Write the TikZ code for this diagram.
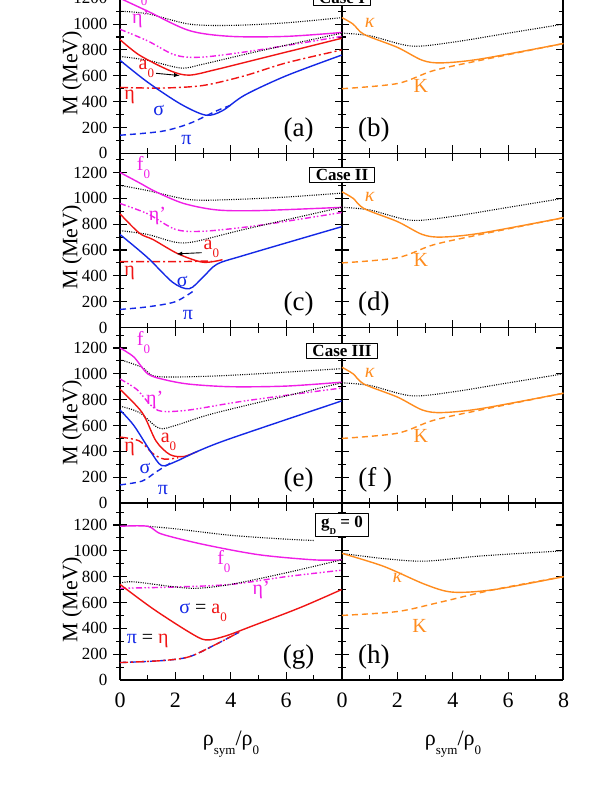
\documentclass[tikz,border=0pt]{standalone}
\usepackage{fontspec}
\setmainfont{Liberation Serif}
\usepackage{tikz}

\definecolor{magfz}{RGB}{240,30,230}
\definecolor{redaz}{RGB}{240,20,20}
\definecolor{bluesig}{RGB}{20,40,230}
\definecolor{orkap}{RGB}{255,140,30}

\newcommand{\lowsub}[1]{\raisebox{-0.4em}{\fontsize{13}{13}\selectfont #1}}

\tikzset{
    fzero/.style={magfz, line width=1.4pt},
    etap/.style={magfz, line width=1.4pt, dash pattern=on 6pt off 2.5pt on 1.5pt off 2pt on 1.5pt off 2.5pt},
    azero/.style={redaz, line width=1.4pt},
    etam/.style={redaz, line width=1.4pt, dash pattern=on 8pt off 3pt on 2pt off 3pt},
    sigm/.style={bluesig, line width=1.4pt},
    pim/.style={bluesig, line width=1.4pt, dash pattern=on 6pt off 4pt},
    kapm/.style={orkap, line width=1.4pt},
    kaon/.style={orkap, line width=1.4pt, dash pattern=on 6pt off 4pt},
    dotl/.style={black, line width=1.1pt, dash pattern=on 1pt off 1.3pt},
    lab/.style={font=\fontsize{20}{20}\selectfont, inner sep=0pt},
    panlab/.style={font=\fontsize{27}{27}\selectfont, inner sep=0pt},
    ticklab/.style={font=\fontsize{17}{17}\selectfont},
    axlab/.style={font=\fontsize{22}{22}\selectfont},
    casebox/.style={draw, line width=1pt, fill=white, font=\bfseries\fontsize{17}{17}\selectfont, inner xsep=6pt, inner ysep=2pt},
}

\begin{document}
\begin{tikzpicture}[x=1pt, y=-1pt, line join=round]
    \useasboundingbox (0,0) rectangle (606,785);

    % frames and ticks
    \draw[line width=1.3pt] (120,-5) -- (120,680) (342,-5) -- (342,680) (563,-5) -- (563,680);
    \foreach \yb in {153.3,327.5,503,680} {
        \draw[line width=1.3pt] (120,\yb) -- (563,\yb);
        \foreach \xo in {120,342} {
            \foreach \k in {1,...,7} {
                \pgfmathsetmacro\xt{\xo+27.7*\k}
                \pgfmathsetmacro\tl{ifthenelse(mod(\k,2)==0,8,5)}
                \draw[line width=1.1pt] (\xt,\yb) -- ++(0,-\tl);
                \ifdim\yb pt<600pt \draw[line width=1.1pt] (\xt,\yb) -- ++(0,\tl); \fi
            }
        }
        \foreach \m in {100,200,...,1300} {
            \pgfmathsetmacro\yt{\yb-0.1292*\m}
            \pgfmathsetmacro\tl{ifthenelse(mod(\m,200)==0,7,4)}
            \draw[line width=1.1pt] (120-\tl,\yt) -- (120+\tl,\yt)
                (342-\tl,\yt) -- (342+\tl,\yt) (563-\tl,\yt) -- (563,\yt);
        }
        \foreach \m in {0,200,...,1200} {
            \node[ticklab, anchor=east] at (111,\yb-0.1292*\m) {\m};
        }
        \pgfmathsetmacro\ym{\yb-80}
        \node[axlab, rotate=90] at (72,\ym) {M (MeV)};
    }
    \foreach \v [count=\i from 0] in {0,2,4,6} {
        \node[axlab] at (120+55.4*\i,700) {\v};
    }
    \foreach \v [count=\i from 0] in {0,2,4,6,8} {
        \node[axlab] at (342+55.4*\i,700) {\v};
    }
    \node[axlab] at (231,744) {ρ\lowsub{sym}/ρ\lowsub{0}};
    \node[axlab] at (453,744) {ρ\lowsub{sym}/ρ\lowsub{0}};

    % (a) Case I
    \begin{scope}[shift={(120,153.3)}, x=27.7pt, y=0.1292pt]
        \draw[dotl] plot[smooth] coordinates {(0,1100) (1,1080) (2.5,1000) (4,990) (6,1010) (8,1050)};
        \draw[fzero] plot[smooth] coordinates {(0,1200) (1,1100) (2.5,950) (4,905) (6,905) (8,935)};
        \draw[etap] plot[smooth] coordinates {(0,960) (1,870) (2,760) (3,745) (5,800) (8,905)};
        \draw[dotl] plot[smooth] coordinates {(0,750) (1,720) (2.2,660) (3,690) (5,790) (8,930)};
        \draw[azero] plot[smooth] coordinates {(0,880) (0.7,760) (1.8,640) (2.5,605) (3.5,650) (5,730) (8,890)};
        \draw[etam] plot[smooth] coordinates {(0,510) (1.5,505) (3,525) (4.5,600) (6,700) (8,800)};
        \draw[sigm] plot[smooth] coordinates {(0,720) (1,550) (2.2,380) (3.1,295) (3.7,330) (4.5,450) (6,600) (8,760)};
        \draw[pim] plot[smooth] coordinates {(0,140) (1.5,170) (2.5,230) (3.5,330) (4.1,380)};
        \node[lab, magfz] (fa) at (0.75,1230) {f\lowsub{0}};
        \node[lab, magfz] (epa) at (0.75,1040) {η’};
        \node[lab, redaz] (aa) at (0.95,650) {a\lowsub{0}};
        \coordinate (aat) at (2.15,602);
        \draw[-latex, line width=0.9pt] (aa.east) ++(2pt,-4pt) -- (aat);
        \node[lab, redaz] (ea) at (0.35,440) {η};
        \node[lab, bluesig] (sa) at (1.4,330) {σ};
        \node[lab, bluesig] (pa) at (2.4,100) {π};
        \node[panlab] (la) at (6.45,180) {(a)};
    \end{scope}
    \node[casebox] (ca) at (342,-2) {Case I};

    % (b)
    \begin{scope}[shift={(342,153.3)}, x=27.7pt, y=0.1292pt]
        \draw[dotl] plot[smooth] coordinates {(0,930) (1,910) (2.5,830) (4,860) (6,930) (8,1000)};
        \draw[kaon] plot[smooth] coordinates {(0,500) (2,540) (3.3,640) (5,720) (8,850)};
        \draw[kapm] plot[smooth] coordinates {(0,1050) (0.4,1000) (0.8,920) (2,820) (2.9,720) (3.6,700) (5,730) (8,850)};
        \node[lab, orkap] (kb) at (1.0,1010) {\itshape κ};
        \node[lab, orkap] (Kb) at (2.85,520) {K};
        \node[panlab] (lb) at (1.15,180) {(b)};
    \end{scope}

    % (c) Case II
    \begin{scope}[shift={(120,327.5)}, x=27.7pt, y=0.1292pt]
        \draw[dotl] plot[smooth] coordinates {(0,1100) (1,1060) (2.5,990) (4,990) (6,1010) (8,1040)};
        \draw[fzero] plot[smooth] coordinates {(0,1200) (0.7,1120) (1.3,1050) (2.3,960) (3.5,910) (5,905) (8,930)};
        \draw[etap] plot[smooth] coordinates {(0,960) (1,880) (2,760) (3,745) (5,790) (8,890)};
        \draw[dotl] plot[smooth] coordinates {(0,750) (1,720) (2,660) (2.7,665) (4.5,760) (8,930)};
        \draw[etam] plot[smooth] coordinates {(0,510) (2,510) (3.3,515)};
        \draw[azero] plot[smooth] coordinates {(0,880) (0.7,730) (1.2,680) (2.1,570) (3,505) (3.7,525)};
        \draw[sigm] plot[smooth] coordinates {(0,720) (1,540) (1.9,350) (2.5,300) (3,390) (3.5,490) (4.5,560) (8,780)};
        \draw[pim] plot[smooth] coordinates {(0,140) (1,160) (2,200) (2.7,290)};
        \node[lab, magfz] (fc) at (0.85,1240) {f\lowsub{0}};
        \node[lab, magfz] (epc) at (1.35,860) {η’};
        \node[lab, redaz] (ac) at (3.3,610) {a\lowsub{0}};
        \coordinate (act) at (2.05,570);
        \draw[-latex, line width=0.9pt] (ac.west) ++(-2pt,-4pt) -- (act);
        \node[lab, redaz] (ec) at (0.35,420) {η};
        \node[lab, bluesig] (sc) at (2.25,360) {σ};
        \node[lab, bluesig] (pc) at (2.45,100) {π};
        \node[panlab] (lc) at (6.45,180) {(c)};
    \end{scope}
    \node[casebox] (cc) at (342,175) {Case II};

    % (d)
    \begin{scope}[shift={(342,327.5)}, x=27.7pt, y=0.1292pt]
        \draw[dotl] plot[smooth] coordinates {(0,930) (1,910) (2.5,830) (4,860) (6,930) (8,1000)};
        \draw[kaon] plot[smooth] coordinates {(0,500) (2,540) (3.3,640) (5,720) (8,850)};
        \draw[kapm] plot[smooth] coordinates {(0,1050) (0.4,1000) (0.8,920) (2,820) (2.9,720) (3.6,700) (5,730) (8,850)};
        \node[lab, orkap] (kd) at (1.0,1010) {\itshape κ};
        \node[lab, orkap] (Kd) at (2.85,520) {K};
        \node[panlab] (ld) at (1.15,180) {(d)};
    \end{scope}

    % (e) Case III
    \begin{scope}[shift={(120,503)}, x=27.7pt, y=0.1292pt]
        \draw[dotl] plot[smooth] coordinates {(0,1110) (0.8,1050) (1.3,980) (3,980) (5,1000) (8,1040)};
        \draw[fzero] plot[smooth] coordinates {(0,1200) (0.5,1130) (1,1000) (1.6,955) (2.5,920) (4,900) (6,905) (8,935)};
        \draw[etap] plot[smooth] coordinates {(0,960) (0.6,880) (1.1,760) (1.5,710) (2.5,720) (4.5,790) (8,890)};
        \draw[dotl] plot[smooth] coordinates {(0,750) (0.7,700) (1.4,580) (2,600) (3.5,700) (8,930)};
        \draw[etam] plot[smooth] coordinates {(0,510) (0.7,480) (1.2,380) (1.6,340) (2.1,350)};
        \draw[azero] plot[smooth] coordinates {(0,880) (0.8,700) (1.3,480) (1.8,375) (2.3,360) (2.8,400)};
        \draw[sigm] plot[smooth] coordinates {(0,720) (0.5,600) (1.1,400) (1.5,290) (2,320) (2.8,400) (4,500) (8,790)};
        \draw[pim] plot[smooth] coordinates {(0,140) (0.8,170) (1.3,240) (1.9,320)};
        \node[lab, magfz] (fe) at (0.85,1240) {f\lowsub{0}};
        \node[lab, magfz] (epe) at (1.25,800) {η’};
        \node[lab, redaz] (ae) at (1.75,470) {a\lowsub{0}};
        \node[lab, redaz] (ee) at (0.35,420) {η};
        \node[lab, bluesig] (se) at (0.9,270) {σ};
        \node[lab, bluesig] (pe) at (1.55,100) {π};
        \node[panlab] (le) at (6.45,180) {(e)};
    \end{scope}
    \node[casebox] (ce) at (342,351) {Case III};

    % (f)
    \begin{scope}[shift={(342,503)}, x=27.7pt, y=0.1292pt]
        \draw[dotl] plot[smooth] coordinates {(0,930) (1,910) (2.5,830) (4,860) (6,930) (8,1000)};
        \draw[kaon] plot[smooth] coordinates {(0,500) (2,540) (3.3,640) (5,720) (8,850)};
        \draw[kapm] plot[smooth] coordinates {(0,1050) (0.4,1000) (0.8,920) (2,820) (2.9,720) (3.6,700) (5,730) (8,850)};
        \node[lab, orkap] (kf) at (1.0,1010) {\itshape κ};
        \node[lab, orkap] (Kf) at (2.85,520) {K};
        \node[panlab] (lf) at (1.2,180) {(f )};
    \end{scope}

    % (g) g_D = 0
    \begin{scope}[shift={(120,680)}, x=27.7pt, y=0.1292pt]
        \draw[dotl] plot[smooth] coordinates {(1,1190) (2,1170) (4,1120) (6,1090) (7,1080)};
        \draw[fzero] plot[smooth] coordinates {(0,1190) (1,1190) (1.5,1130) (3,1050) (5,970) (7,930) (8,930)};
        \draw[etap] plot[smooth] coordinates {(0,710) (2,720) (4,740) (6,800) (8,850)};
        \draw[dotl] plot[smooth] coordinates {(0,750) (0.5,760) (2,720) (2.8,710) (4,740) (6,830) (8,930)};
        \draw[azero] plot[smooth] coordinates {(0,740) (1.2,550) (2.5,370) (3.1,310) (3.8,340) (4.8,420) (6.5,560) (8,700)};
        \draw[pim] plot[smooth] coordinates {(0,135) (1.5,150) (2.5,180) (3.5,280) (4.3,370)};
        \draw[etam] plot[smooth] coordinates {(0,135) (1.5,150) (2.5,180) (3.5,280) (4.3,370)};
        \node[lab, magfz] (fg) at (3.75,920) {f\lowsub{0}};
        \node[lab, magfz] (epg) at (5.1,700) {η’};
        \node[lab] (sg) at (3.0,520) {\textcolor{bluesig}{σ} = \textcolor{redaz}{a\lowsub{0}}};
        \node[lab] (pg) at (1.0,300) {\textcolor{bluesig}{π} = \textcolor{redaz}{η}};
        \node[panlab] (lg) at (6.45,180) {(g)};
    \end{scope}
    \node[casebox] (cg) at (342,525) {g\lowsub{\bfseries\fontsize{9}{9}\selectfont D} = 0};

    % (h)
    \begin{scope}[shift={(342,680)}, x=27.7pt, y=0.1292pt]
        \draw[dotl] plot[smooth] coordinates {(0,980) (1.5,940) (3,920) (5,960) (8,1000)};
        \draw[kaon] plot[smooth] coordinates {(0,500) (2,530) (3.5,600) (5.5,700) (8,800)};
        \draw[kapm] plot[smooth] coordinates {(0,980) (1.5,880) (3,740) (4,680) (5.5,700) (8,800)};
        \node[lab, orkap] (kh) at (2.0,790) {\itshape κ};
        \node[lab, orkap] (Kh) at (2.8,420) {K};
        \node[panlab] (lh) at (1.15,180) {(h)};
    \end{scope}
\end{tikzpicture}
\end{document}
